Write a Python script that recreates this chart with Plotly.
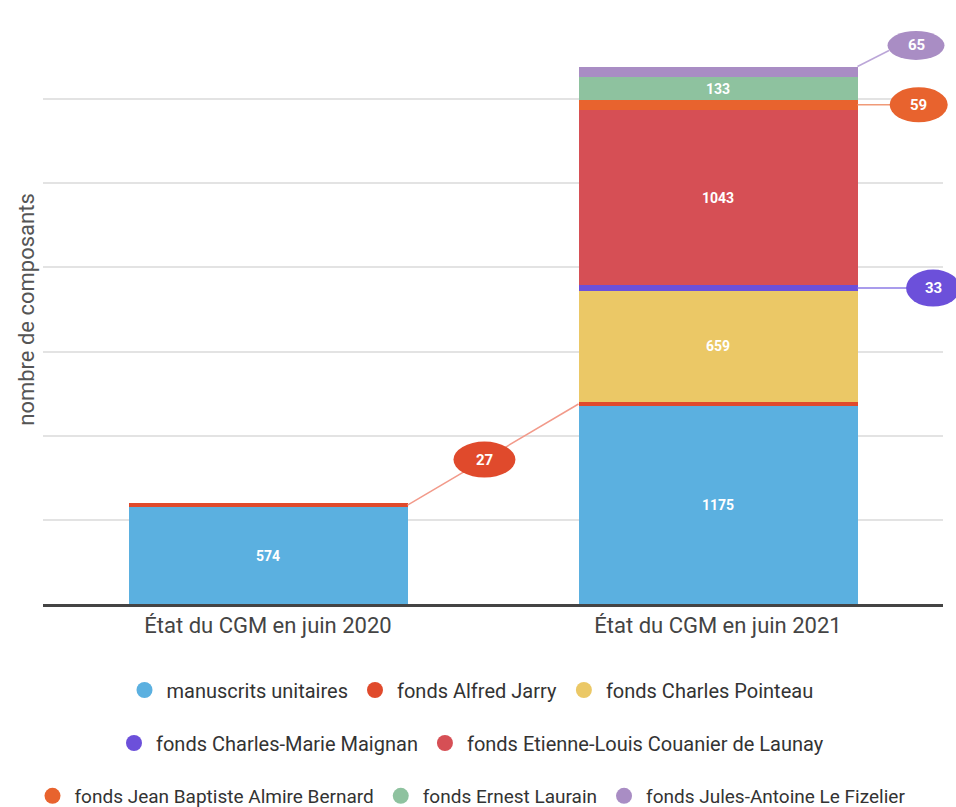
import plotly.graph_objects as go

categories = ["État du CGM en juin 2020", "État du CGM en juin 2021"]
series_names = [
    "manuscrits unitaires",
    "fonds Alfred Jarry",
    "fonds Charles Pointeau",
    "fonds Charles-Marie Maignan",
    "fonds Etienne-Louis Couanier de Launay",
    "fonds Jean Baptiste Almire Bernard",
    "fonds Ernest Laurain",
    "fonds Jules-Antoine Le Fizelier",
]
manuscrits = [574, 1175]
jarry = [27, 27]
pointeau = [0, 659]
maignan = [0, 33]
launay = [0, 1043]
bernard = [0, 59]
laurain = [0, 133]
fizelier = [0, 65]
series_values = [manuscrits, jarry, pointeau, maignan, launay, bernard, laurain, fizelier]
colors = ["#5bb0e0", "#e04a2c", "#ebc866", "#6c50da", "#d64f55",
          "#e8632e", "#8ec29f", "#a98dc4"]
line_colors = {1: "#f29a8a", 3: "#8d7be6", 5: "#f09a78", 7: "#bba6d8"}
legend_rows = [[0, 1, 2], [3, 4], [5, 6, 7]]

Y_MAX = 3500
X_MIN, X_MAX = -0.5, 1.5
BAR_W = 0.62
FONT = "Roboto, Arial, sans-serif"

xs = list(range(len(categories)))

fig = go.Figure()
for i, (name, vals) in enumerate(zip(series_names, series_values)):
    txt = [str(v) if v >= 100 else "" for v in vals]
    fig.add_trace(go.Bar(
        x=xs, y=vals, name=name, marker=dict(color=colors[i], line=dict(width=0)),
        text=txt, textposition="inside", insidetextanchor="middle",
        textfont=dict(color="white", size=14, family=FONT, weight="bold"),
        showlegend=False, hoverinfo="skip", width=BAR_W,
    ))

for r, row in enumerate(legend_rows):
    lg = "legend" if r == 0 else f"legend{r+1}"
    for i in row:
        fig.add_trace(go.Scatter(
            x=[None], y=[None], mode="markers", name=series_names[i],
            marker=dict(color=colors[i], size=16, symbol="circle"),
            legend=lg, showlegend=True,
        ))


def xd(x):
    return (x - X_MIN) / (X_MAX - X_MIN)


def yd(y):
    return y / Y_MAX


def seg_mid(si, ci):
    base = sum(series_values[k][ci] for k in range(si))
    return base + series_values[si][ci] / 2


def seg_top(si, ci):
    return sum(series_values[k][ci] for k in range(si + 1))


shapes = []
annotations = []


def bubble(cx, cy, w, h, color, label):
    shapes.append(dict(type="circle", xref="x domain", yref="y domain",
                       xsizemode="pixel", ysizemode="pixel",
                       xanchor=cx, yanchor=cy,
                       x0=-w / 2, x1=w / 2, y0=-h / 2, y1=h / 2,
                       fillcolor=color, line=dict(width=0), layer="above"))
    annotations.append(dict(x=cx, y=cy, xref="x domain", yref="y domain",
                            xanchor="center", yanchor="middle",
                            text=f"<b>{label}</b>", showarrow=False,
                            font=dict(color="white", size=15, family=FONT)))


def conn(x0, y0, x1, y1, color):
    shapes.append(dict(type="line", xref="x domain", yref="y domain",
                       x0=x0, y0=y0, x1=x1, y1=y1,
                       line=dict(color=color, width=1.5), layer="above"))


# Alfred Jarry: connector between the two bars
ja0 = (xd(0 + BAR_W / 2), yd(seg_mid(1, 0)))
ja1 = (xd(1 - BAR_W / 2), yd(seg_mid(1, 1)))
conn(ja0[0], ja0[1], ja1[0], ja1[1], line_colors[1])
t = 0.45
bubble(ja0[0] + t * (ja1[0] - ja0[0]), ja0[1] + t * (ja1[1] - ja0[1]),
       62, 36, colors[1], jarry[1])

right_edge = xd(1 + BAR_W / 2)
# Maignan
ym = yd(seg_mid(3, 1))
bx = xd(1.478)
conn(right_edge, ym, bx, ym, line_colors[3])
bubble(bx, ym, 54, 37, colors[3], maignan[1])
# Bernard
yb = yd(seg_mid(5, 1))
bx = xd(1.446)
conn(right_edge, yb, bx, yb, line_colors[5])
bubble(bx, yb, 58, 35, colors[5], bernard[1])
# Fizelier
yt = yd(seg_top(7, 1))
bx = xd(1.44)
by = yd(seg_top(7, 1) + 125)
conn(right_edge, yt, xd(1.38), yd(seg_top(7, 1) + 95), line_colors[7])
bubble(bx, by, 57, 29, colors[7], fizelier[1])


def leg(y, size):
    return dict(orientation="h", x=0.475, xanchor="center", yanchor="middle", y=y,
                traceorder="normal", itemwidth=34,
                font=dict(size=size, color="#333", family=FONT), bgcolor="rgba(0,0,0,0)")


fig.update_layout(
    barmode="stack",
    width=956, height=807,
    margin=dict(l=43, r=13, t=15, b=203, autoexpand=False),
    paper_bgcolor="white", plot_bgcolor="white",
    font=dict(family=FONT, size=16, color="#444"),
    shapes=shapes, annotations=annotations,
    xaxis=dict(range=[X_MIN, X_MAX], tickvals=xs, ticktext=categories,
               showgrid=False, zeroline=False, showline=True, automargin=False,
               linecolor="#444", linewidth=3, ticks="",
               tickfont=dict(size=22, color="#444", family=FONT)),
    yaxis=dict(range=[0, Y_MAX], dtick=500, showticklabels=False, automargin=False,
               showgrid=True, gridcolor="#e3e3e3", gridwidth=1.5,
               zeroline=False, ticks="",
               title=dict(text="nombre de composants", standoff=1,
                          font=dict(size=22, color="#555", family=FONT))),
    legend=leg(-0.146, 20),
    legend2=leg(-0.236, 20),
    legend3=leg(-0.326, 19),
)

fig.write_html("out.html", config={"displayModeBar": False},
               post_script="document.body.style.margin='0';document.body.style.overflow='hidden';")
